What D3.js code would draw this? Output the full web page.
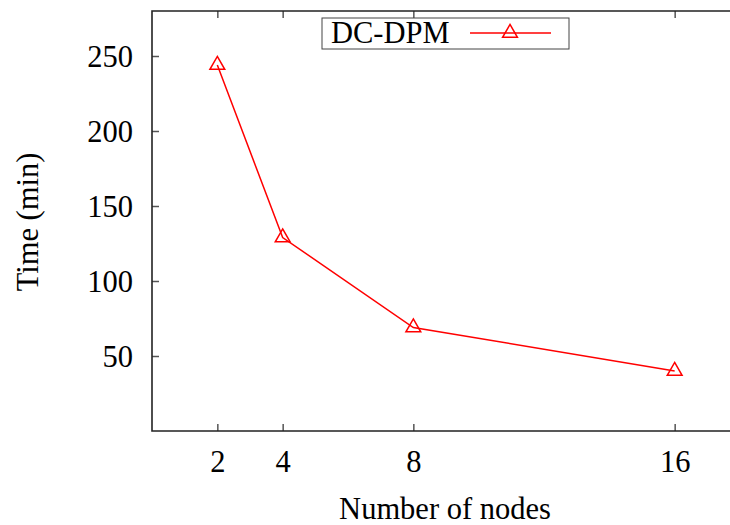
<!DOCTYPE html>
<html>
<head>
<meta charset="utf-8">
<script src="https://cdn.jsdelivr.net/npm/d3@7"></script>
<style>
	body { margin: 0; background: #fff; }
	svg { display: block; }
	text { font-family: "Liberation Serif", "Times New Roman", serif; fill: #000; }
	.tick line { stroke: #555; stroke-width: 1.5; }
	.domain { display: none; }
</style>
</head>
<body>
<svg id="chart" width="730" height="525"></svg>
<script>
// chart values
var nodes = [2, 4, 8, 16];
var times = [244, 129, 69, 40];
var xTicks = [2, 4, 8, 16];
var yTicks = [50, 100, 150, 200, 250];
var seriesName = "DC-DPM";

var svg = d3.select("#chart");
var plotL = 152, plotT = 11, plotB = 431, plotR = 740;
var fs = 30.5;

var x = d3.scaleLinear().domain([0, 18]).range([plotL, plotR]);
var y = d3.scaleLinear().domain([0, 280]).range([plotB, plotT]);

// ticks point inward, like gnuplot
var xaxis = svg.append("g").attr("transform", "translate(0," + plotB + ")")
	.call(d3.axisBottom(x).tickValues(xTicks).tickSize(-7));
xaxis.selectAll("text").attr("font-size", fs).attr("dy", null).attr("y", 41);
var xtop = svg.append("g").attr("transform", "translate(0," + plotT + ")")
	.call(d3.axisTop(x).tickValues(xTicks).tickSize(-7));
xtop.selectAll("text").remove();
var yaxis = svg.append("g").attr("transform", "translate(" + plotL + ",0)")
	.call(d3.axisLeft(y).tickValues(yTicks).tickSize(-7).tickPadding(19));
yaxis.selectAll("text").attr("font-size", fs).attr("dy", "0.35em");

// border: left, top and bottom only (the right side is cut off)
svg.append("path")
	.attr("d", "M730," + plotT + "H" + plotL + "V" + plotB + "H730")
	.attr("fill", "none").attr("stroke", "#222").attr("stroke-width", 1.6);

// axis titles
svg.append("text").attr("x", 445).attr("y", 519).attr("text-anchor", "middle")
	.attr("font-size", fs).text("Number of nodes");
svg.append("text").attr("transform", "translate(38,222) rotate(-90)").attr("text-anchor", "middle")
	.attr("font-size", fs).text("Time (min)");

// series
var pts = nodes.map(function(n, i) { return [n, times[i]]; });
var line = d3.line().x(function(d) { return x(d[0]); }).y(function(d) { return y(d[1]); });
svg.append("path").datum(pts).attr("d", line)
	.attr("fill", "none").attr("stroke", "#ff0000").attr("stroke-width", 1.5);
var tri = d3.symbol(d3.symbolTriangle, 95);
svg.selectAll("path.pt").data(pts).enter().append("path").attr("class", "pt")
	.attr("d", tri)
	.attr("transform", function(d) { return "translate(" + x(d[0]) + "," + y(d[1]) + ")"; })
	.attr("fill", "none").attr("stroke", "#ff0000").attr("stroke-width", 1.5);

// legend
var lg = svg.append("g");
lg.append("rect").attr("x", 322).attr("y", 18).attr("width", 247).attr("height", 31)
	.attr("fill", "#fff").attr("stroke", "#444").attr("stroke-width", 1);
lg.append("text").attr("x", 331).attr("y", 43).attr("font-size", fs).text(seriesName);
lg.append("line").attr("x1", 470).attr("x2", 551).attr("y1", 33).attr("y2", 33)
	.attr("stroke", "#ff0000").attr("stroke-width", 1.5);
lg.append("path").attr("d", tri).attr("transform", "translate(510,33)")
	.attr("fill", "none").attr("stroke", "#ff0000").attr("stroke-width", 1.5);
</script>
</body>
</html>
